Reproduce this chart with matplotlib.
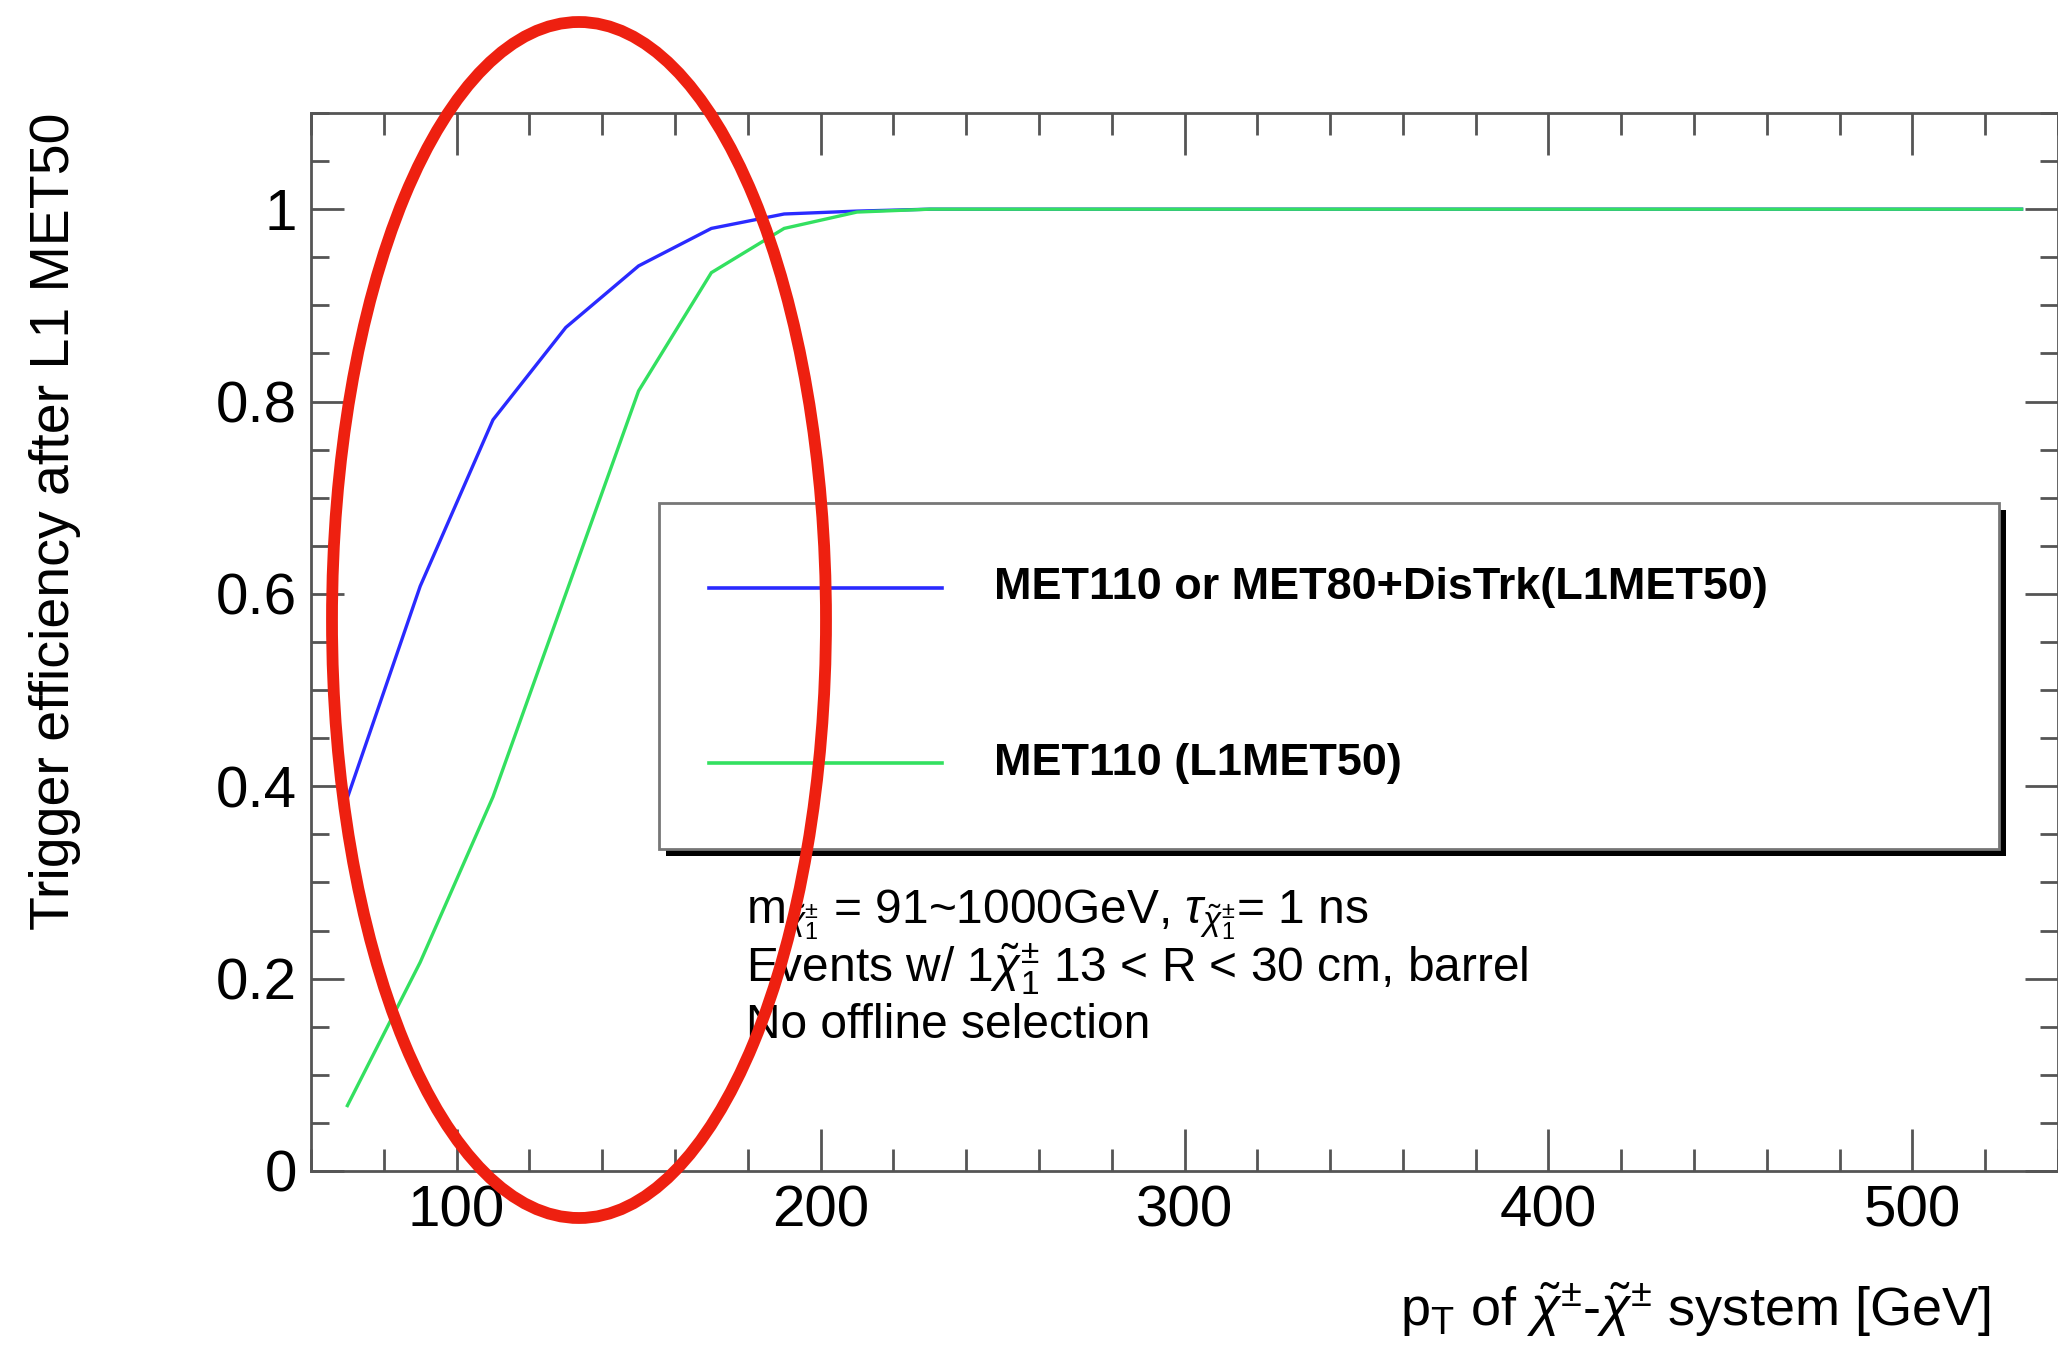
import matplotlib
matplotlib.use('Agg')
import matplotlib.pyplot as plt
from matplotlib.patches import Ellipse, Rectangle
from matplotlib.ticker import MultipleLocator

# pT bin centres [GeV]
pt = [70, 90, 110, 130, 150, 170, 190, 210, 230, 250, 270, 290, 310, 330,
      350, 370, 390, 410, 430, 450, 470, 490, 510, 530]

# MET110 or MET80+DisTrk(L1MET50)
eff_or = [0.388, 0.608, 0.781, 0.877, 0.941, 0.980, 0.995, 0.998, 1.0, 1.0,
          1.0, 1.0, 1.0, 1.0, 1.0, 1.0, 1.0, 1.0, 1.0, 1.0, 1.0, 1.0, 1.0, 1.0]
# MET110 (L1MET50)
eff_met = [0.068, 0.217, 0.389, 0.600, 0.811, 0.934, 0.980, 0.997, 1.0, 1.0,
           1.0, 1.0, 1.0, 1.0, 1.0, 1.0, 1.0, 1.0, 1.0, 1.0, 1.0, 1.0, 1.0, 1.0]

labels = ['MET110 or MET80+DisTrk(L1MET50)', 'MET110 (L1MET50)']
colors = ['#2a2aff', '#33e060']

xticks = [100, 200, 300, 400, 500]
yticks = [0, 0.2, 0.4, 0.6, 0.8, 1.0]
ytick_labels = ['0', '0.2', '0.4', '0.6', '0.8', '1']

plt.rcParams['font.family'] = ['Liberation Sans', 'DejaVu Sans']
plt.rcParams['mathtext.fontset'] = 'custom'
plt.rcParams['mathtext.rm'] = 'Liberation Sans'
plt.rcParams['mathtext.it'] = 'Liberation Sans:italic'
plt.rcParams['mathtext.bf'] = 'Liberation Sans:bold'

W, H = 2058, 1347
fig = plt.figure(figsize=(W / 100, H / 100), dpi=100)
ax = fig.add_axes([311 / W, 1 - 1171 / H, 1 - 311 / W, (1171 - 113) / H])

ax.plot(pt, eff_or, color=colors[0], lw=2.4, solid_joinstyle='miter')
ax.plot(pt, eff_met, color=colors[1], lw=2.4, solid_joinstyle='miter')

ax.set_xlim(60, 540)
ax.set_ylim(0, 1.1)

frame_col = '#555555'
for s in ax.spines.values():
    s.set_color(frame_col)
    s.set_linewidth(2.0)

ax.xaxis.set_minor_locator(MultipleLocator(20))
ax.yaxis.set_minor_locator(MultipleLocator(0.05))
ax.tick_params(which='both', direction='in', top=True, right=True,
               color=frame_col, width=2.0)
ax.tick_params(which='major', axis='y', length=24)
ax.tick_params(which='minor', axis='y', length=13)
ax.tick_params(which='major', axis='x', length=30)
ax.tick_params(which='minor', axis='x', length=16)
ax.tick_params(which='major', labelsize=42, pad=10)
ax.set_xticks(xticks)
ax.set_xticklabels([str(v) for v in xticks])
ax.set_yticks(yticks)
ax.set_yticklabels(ytick_labels)

# axis titles
fig.text(55 / W, 1 - 113 / H, 'Trigger efficiency after L1 MET50',
         rotation=90, ha='center', va='top', fontsize=40)
fig.text(1991 / W, 1 - 1326 / H,
         r'p$_{\mathrm{T}}$ of $\tilde{\chi}^{\pm}$-$\tilde{\chi}^{\pm}$ system [GeV]',
         ha='right', va='baseline', fontsize=39)

# legend box with ROOT style shadow
lx0, lx1, ly0, ly1 = 659 / W, 1999 / W, 1 - 849 / H, 1 - 503 / H
sh = 7
fig.patches.append(Rectangle((lx0 + sh / W, ly0 - sh / H), lx1 - lx0, ly1 - ly0,
                             transform=fig.transFigure, facecolor='black',
                             edgecolor='none', zorder=5))
fig.patches.append(Rectangle((lx0, ly0), lx1 - lx0, ly1 - ly0,
                             transform=fig.transFigure, facecolor='white',
                             edgecolor='#777777', lw=2.0, zorder=6))
for i, yy in enumerate([588, 763]):
    fig.add_artist(plt.Line2D([709 / W, 942 / W], [1 - yy / H, 1 - yy / H],
                              transform=fig.transFigure, color=colors[i],
                              lw=2.6, zorder=7))
    fig.text(994 / W, 1 - yy / H, labels[i], ha='left', va='center',
             fontsize=32.4, fontweight='bold', zorder=7)

# info text
info = [r'm$_{\tilde{\chi}^{\pm}_{1}}$ = 91~1000GeV, $\tau_{\tilde{\chi}^{\pm}_{1}}$= 1 ns',
        r'Events w/ 1$\tilde{\chi}^{\pm}_{1}$ 13 < R < 30 cm, barrel',
        'No offline selection']
for txt, yb in zip(info, [923, 982, 1038]):
    fig.text(746 / W, 1 - yb / H, txt, ha='left', va='baseline', fontsize=34.5,
             zorder=7)

# red highlight ellipse
fig.patches.append(Ellipse((579 / W, 1 - 620 / H), 494 / W, 1196 / H,
                           transform=fig.transFigure, fill=False,
                           edgecolor='#ee2010', lw=8.5, zorder=10))

fig.savefig('out.png', dpi=100, facecolor='white')
